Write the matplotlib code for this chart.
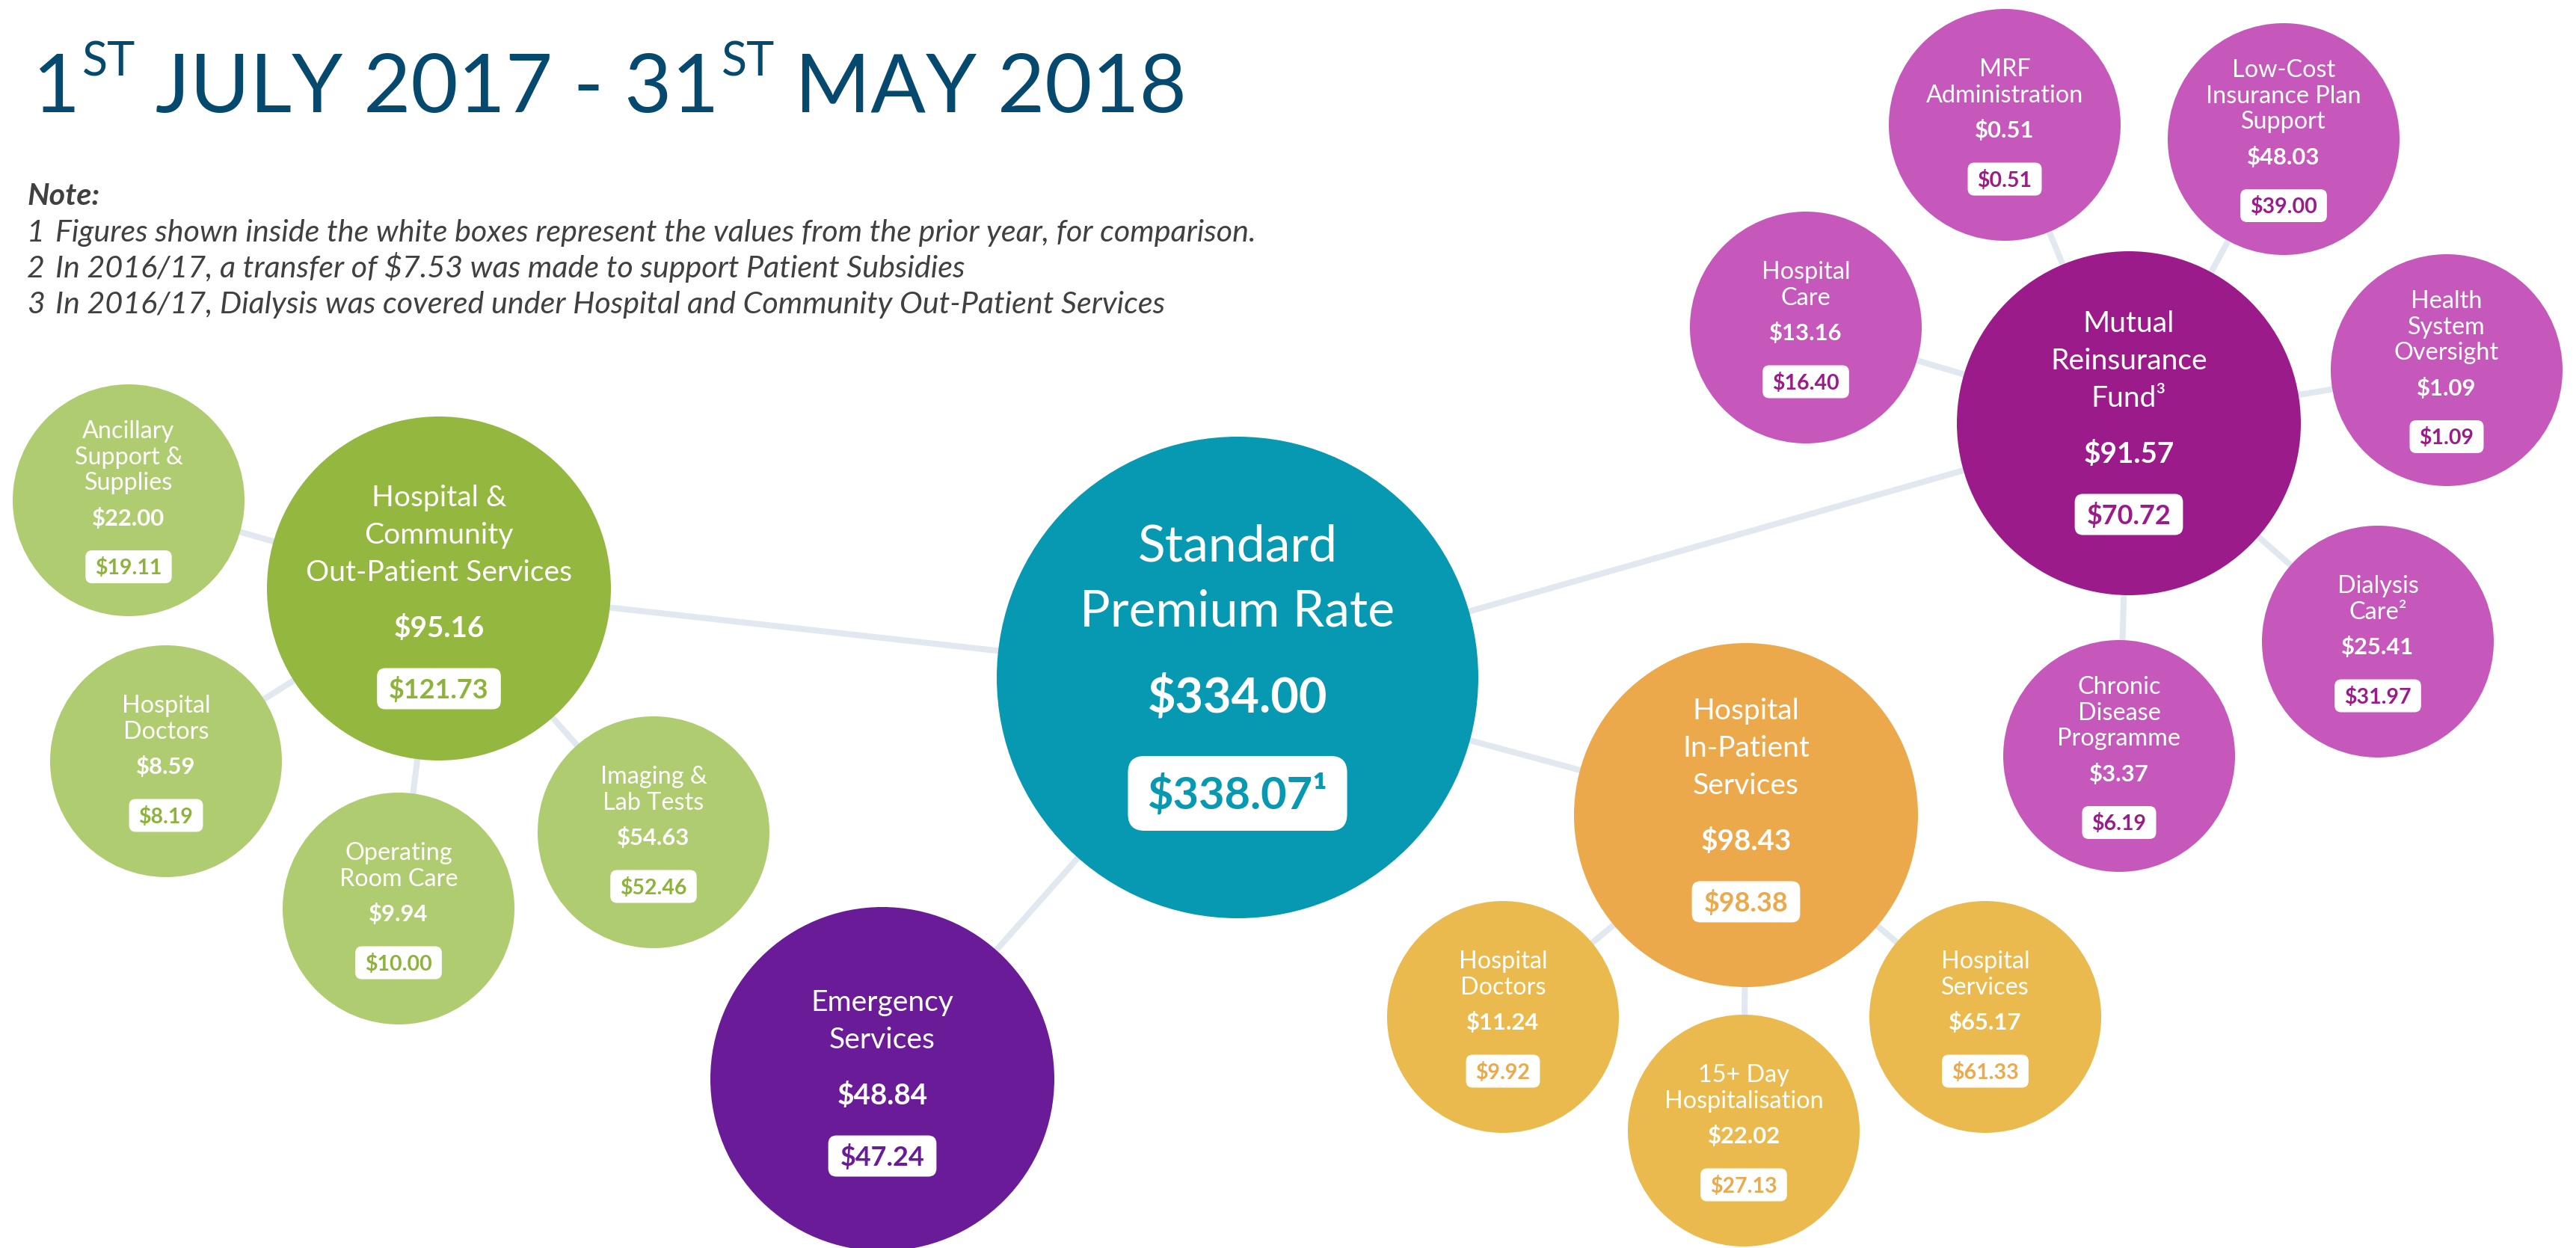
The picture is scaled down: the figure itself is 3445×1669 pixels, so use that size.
import matplotlib
matplotlib.use("Agg")
import matplotlib.pyplot as plt
from matplotlib.patches import Circle, FancyBboxPatch
from matplotlib.textpath import TextPath
from matplotlib.font_manager import FontProperties

FONT = "Lato"

# ---------------- data ----------------
title_parts = ["1", "ST", "JULY 2017 - 31", "ST", "MAY 2018"]
note_head = "Note:"
note_nums = ["1", "2", "3"]
note_lines = [
    "Figures shown inside the white boxes represent the values from the prior year, for comparison.",
    "In 2016/17, a transfer of $7.53 was made to support Patient Subsidies",
    "In 2016/17, Dialysis was covered under Hospital and Community Out-Patient Services",
]

center_label = ["Standard", "Premium Rate"]
center_value = "$334.00"
center_prior = "$338.07\u00b9"

hub_labels = [["Hospital &", "Community", "Out-Patient Services"],
              ["Emergency", "Services"],
              ["Hospital", "In-Patient", "Services"],
              ["Mutual", "Reinsurance", "Fund\u00b3"]]
hub_values = [95.16, 48.84, 98.43, 91.57]
hub_prior = [121.73, 47.24, 98.38, 70.72]

child_labels = [
    [["Ancillary", "Support &", "Supplies"], ["Hospital", "Doctors"],
     ["Operating", "Room Care"], ["Imaging &", "Lab Tests"]],
    [],
    [["Hospital", "Doctors"], ["15+ Day", "Hospitalisation"], ["Hospital", "Services"]],
    [["Hospital", "Care"], ["MRF", "Administration"], ["Low-Cost", "Insurance Plan", "Support"],
     ["Health", "System", "Oversight"], ["Dialysis", "Care\u00b2"], ["Chronic", "Disease", "Programme"]],
]
child_values = [[22.00, 8.59, 9.94, 54.63], [], [11.24, 22.02, 65.17],
                [13.16, 0.51, 48.03, 1.09, 25.41, 3.37]]
child_prior = [[19.11, 8.19, 10.00, 52.46], [], [9.92, 27.13, 61.33],
               [16.40, 0.51, 39.00, 1.09, 31.97, 6.19]]

# ---------------- layout (pixels) ----------------
center_pos = (1655, 906)
center_r = 322
hub_pos = [(587, 787), (1180, 1443), (2335, 1090), (2847, 566)]
hub_r = 230
hub_text_top = [-124, -105, -142, -136]
child_pos = [[(172, 669), (222, 1018), (533, 1215), (874, 1113)],
             [],
             [(2010, 1360), (2332, 1512), (2655, 1360)],
             [(2415, 438), (2681, 167), (3054, 186), (3272, 495), (3180, 858), (2834, 1011)]]
child_r = 155

center_color = "#0798b2"
hub_colors = ["#93b73f", "#6a1b98", "#eba94c", "#9b1b8a"]
hub_box_text = ["#8db33a", "#6a1b98", "#eba94c", "#9b1b8a"]
child_colors = ["#b0cc70", None, "#ebba4f", "#c658bb"]
child_box_text = ["#8db33a", None, "#eba94c", "#9b1b8a"]
line_color = "#e1e8ef"
title_color = "#05496e"
note_color = "#404040"


def fit(txt, px, weight="normal", style="normal"):
    fp = FontProperties(family=FONT, weight=weight, style=style, size=100)
    w = TextPath((0, 0), txt, prop=fp).get_extents().width
    return 72.0 * px / w


fig = plt.figure(figsize=(34.45, 16.69), dpi=100)
ax = fig.add_axes([0, 0, 1, 1])
ax.set_xlim(0, 3445)
ax.set_ylim(1669, 0)
ax.axis("off")
rend = fig.canvas.get_renderer()

sz_small = fit("Administration", 207)
sz_small_val = fit("$48.03", 95, "bold")
sz_small_box = fit("$39.00", 88, "bold")
sz_hub = fit("Out-Patient Services", 352)
sz_hub_val = fit("$91.57", 119, "bold")
sz_hub_box = fit("$121.73", 131, "bold")
sz_ctr = fit("Premium Rate", 412)
sz_ctr_val = fit("$334.00", 237, "bold")
sz_ctr_box = fit("$338.07", 217, "bold")
sz_title = fit(title_parts[2], 745)
sz_note = fit(note_lines[0], 1602, style="italic")


def put(x, y, s, size, color="white", weight="normal", style="normal", ha="center"):
    # y is the visual middle of the caps; convert to baseline
    return ax.text(x, y + 0.35 * size * 100 / 72, s, fontsize=size, color=color,
                   fontweight=weight, fontstyle=style, family=FONT,
                   ha=ha, va="baseline", zorder=5)


def boxed(x, y, s, size, color, h, padx, rs):
    t = put(x, y, s, size, color=color, weight="bold")
    w = t.get_window_extent(renderer=rend).width + 2 * padx
    ax.add_patch(FancyBboxPatch((x - w / 2, y - h / 2), w, h,
                                boxstyle=f"round,pad=0,rounding_size={rs}",
                                fc="white", ec="none", zorder=4))


# connecting lines
for i, (hx, hy) in enumerate(hub_pos):
    ax.plot([center_pos[0], hx], [center_pos[1], hy], color=line_color, lw=5.8,
            solid_capstyle="butt", zorder=1)
    for cx, cy in child_pos[i]:
        ax.plot([hx, cx], [hy, cy], color=line_color, lw=5.8,
                solid_capstyle="butt", zorder=1)

# centre bubble
ax.add_patch(Circle(center_pos, center_r, fc=center_color, ec="none", zorder=2))
cx, cy = center_pos
put(cx, cy - 179, center_label[0], sz_ctr)
put(cx, cy - 92, center_label[1], sz_ctr)
put(cx, cy + 24, center_value, sz_ctr_val, weight="bold")
boxed(cx, cy + 155, center_prior, sz_ctr_box, center_color, 100, 26, 22)

# hubs
for i, (hx, hy) in enumerate(hub_pos):
    ax.add_patch(Circle((hx, hy), hub_r, fc=hub_colors[i], ec="none", zorder=2))
    y = hy + hub_text_top[i]
    for line in hub_labels[i]:
        put(hx, y, line, sz_hub)
        y += 50
    y += 25
    put(hx, y, f"${hub_values[i]:.2f}", sz_hub_val, weight="bold")
    boxed(hx, y + 83, f"${hub_prior[i]:.2f}", sz_hub_box, hub_box_text[i], 55, 16, 11)

# children
for i in range(len(hub_pos)):
    for j, (px, py) in enumerate(child_pos[i]):
        ax.add_patch(Circle((px, py), child_r, fc=child_colors[i], ec="none", zorder=2))
        lines = child_labels[i][j]
        y = py - 76 - 18 * (len(lines) - 2)
        for line in lines:
            put(px, y, line, sz_small)
            y += 34.5
        y += 48 - 34.5
        put(px, y, f"${child_values[i][j]:.2f}", sz_small_val, weight="bold")
        boxed(px, y + 66, f"${child_prior[i][j]:.2f}", sz_small_box,
              child_box_text[i], 44, 13, 9)

# title with superscripts (gap after each run, in pixels)
x = 43
base = 150
sup = 0.575 * sz_title
em = sz_title * 100 / 72
gaps = [4, 0.24 * em, 4, 0.24 * em, 0]
for k, part in enumerate(title_parts):
    is_sup = part == "ST"
    size = sup if is_sup else sz_title
    yb = base - 48 if is_sup else base
    t = ax.text(x, yb, part, fontsize=size, color=title_color, family=FONT,
                ha="left", va="baseline", zorder=5)
    x += t.get_window_extent(renderer=rend).width + gaps[k]

# notes
ax.text(36, 274, note_head, fontsize=sz_note, color=note_color, family=FONT,
        fontweight="bold", fontstyle="italic", ha="left", va="baseline")
for k, (num, line) in enumerate(zip(note_nums, note_lines)):
    yb = 323 + 48 * k
    ax.text(36, yb, num, fontsize=sz_note, color=note_color, family=FONT,
            fontstyle="italic", ha="left", va="baseline")
    ax.text(74, yb, line, fontsize=sz_note, color=note_color, family=FONT,
            fontstyle="italic", ha="left", va="baseline")

fig.savefig("out.png", dpi=100, facecolor="white")
